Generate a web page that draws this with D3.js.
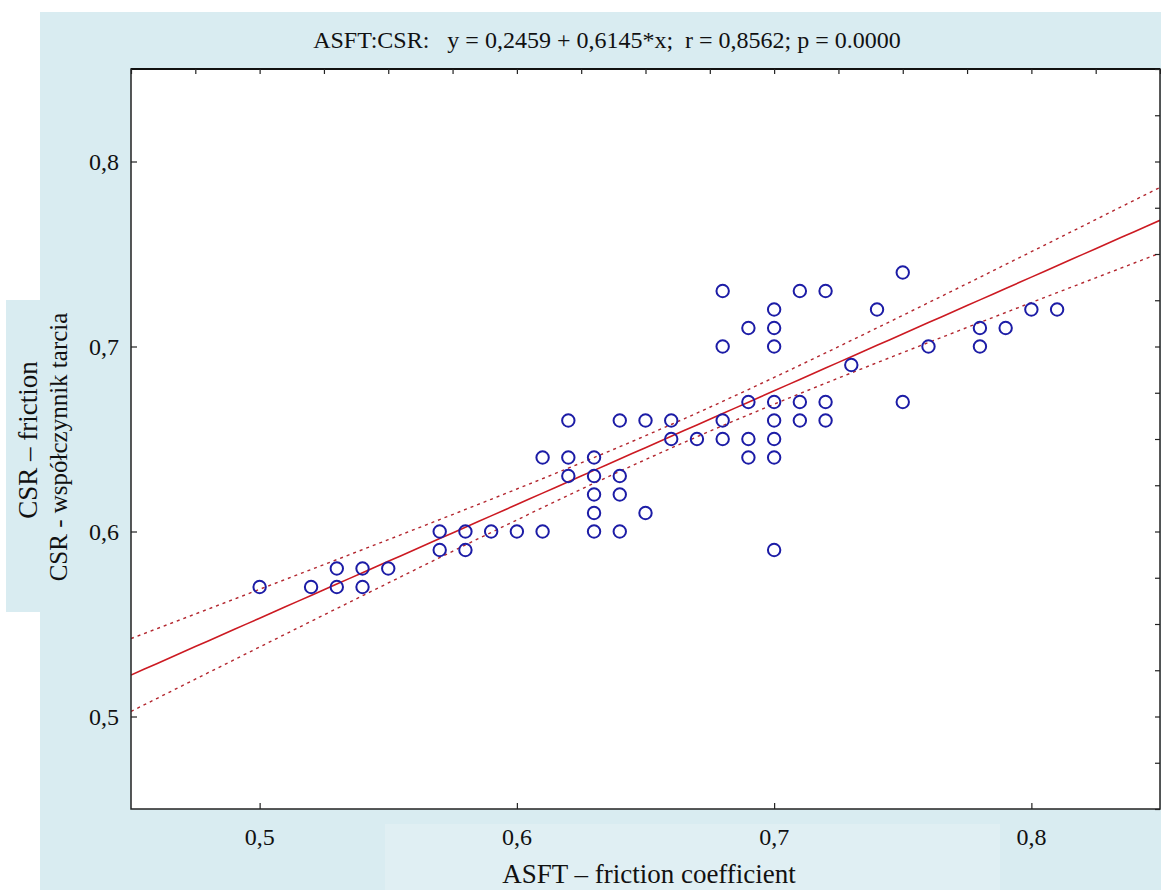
<!DOCTYPE html>
<html>
<head>
<meta charset="utf-8">
<script src="https://cdn.jsdelivr.net/npm/d3@7"></script>
<style>
  body { margin: 0; background: #fff; }
  svg { display: block; }
  svg text { font-family: "Liberation Serif", "Times New Roman", Times, serif; fill: #111; }
</style>
</head>
<body>
<svg id="chart"></svg>
<script>
// data (ASFT friction coefficient vs CSR friction)
const asftValues = [
  0.50, 0.52, 0.53, 0.53, 0.54, 0.54, 0.55, 0.57, 0.57, 0.58, 0.58, 0.59, 0.60,
  0.61, 0.61, 0.62, 0.62, 0.62, 0.63, 0.63, 0.63, 0.63, 0.63,
  0.64, 0.64, 0.64, 0.64, 0.65, 0.65, 0.66, 0.66, 0.67,
  0.68, 0.68, 0.68, 0.68, 0.69, 0.69, 0.69, 0.69,
  0.70, 0.70, 0.70, 0.70, 0.70, 0.70, 0.70, 0.70,
  0.71, 0.71, 0.71, 0.72, 0.72, 0.72, 0.73, 0.74, 0.75, 0.75, 0.76,
  0.78, 0.78, 0.79, 0.80, 0.81
];
const csrValues = [
  0.57, 0.57, 0.57, 0.58, 0.57, 0.58, 0.58, 0.59, 0.60, 0.59, 0.60, 0.60, 0.60,
  0.60, 0.64, 0.63, 0.64, 0.66, 0.60, 0.61, 0.62, 0.63, 0.64,
  0.60, 0.62, 0.63, 0.66, 0.61, 0.66, 0.65, 0.66, 0.65,
  0.65, 0.66, 0.70, 0.73, 0.64, 0.65, 0.67, 0.71,
  0.59, 0.64, 0.65, 0.66, 0.67, 0.70, 0.71, 0.72,
  0.66, 0.67, 0.73, 0.66, 0.67, 0.73, 0.69, 0.72, 0.67, 0.74, 0.70,
  0.70, 0.71, 0.71, 0.72, 0.72
];
const majorTicks = [0.5, 0.6, 0.7, 0.8];
const minorTicks = d3.range(0.45, 0.8501, 0.025);
// values printed in the chart title
const intercept = 0.2459;
const slope = 0.6145;
const rValue = 0.8562;
const titleText = "ASFT:CSR:   y = 0,2459 + 0,6145*x;  r = 0,8562; p = 0.0000";

const width = 1161, height = 890;
const plot = { left: 131, right: 1160, top: 69, bottom: 809 };
const panelBlue = "#d9ecf1";

const svg = d3.select("#chart").attr("width", width).attr("height", height);

// background panels
svg.append("rect").attr("x", 40).attr("y", 12).attr("width", width - 40).attr("height", height - 12).attr("fill", panelBlue);
svg.append("rect").attr("x", 6).attr("y", 300).attr("width", 40).attr("height", 312).attr("fill", panelBlue);
svg.append("rect").attr("x", 385).attr("y", 824).attr("width", 615).attr("height", 66).attr("fill", "#e0eff3");
svg.append("rect")
  .attr("x", plot.left).attr("y", plot.top)
  .attr("width", plot.right - plot.left).attr("height", plot.bottom - plot.top)
  .attr("fill", "#fff");

const x = d3.scaleLinear().domain([0.45, 0.85]).range([plot.left, plot.right]);
const y = d3.scaleLinear().domain([0.45, 0.85]).range([plot.bottom, plot.top]);
const fmt = d => d3.format(".1f")(d).replace(".", ",");

svg.append("defs").append("clipPath").attr("id", "clip")
  .append("rect")
  .attr("x", plot.left).attr("y", plot.top)
  .attr("width", plot.right - plot.left).attr("height", plot.bottom - plot.top);

// regression line + 95% confidence band for the mean
const n = asftValues.length;
const xMean = d3.mean(asftValues);
const sxx = d3.sum(asftValues, v => (v - xMean) ** 2);
const sy = d3.deviation(csrValues);
const se = sy * Math.sqrt((1 - rValue * rValue) * (n - 1) / (n - 2));
const tCrit = 1.999;
const xs = d3.range(0.45, 0.8501, 0.005);
const fit = v => intercept + slope * v;
const half = v => tCrit * se * Math.sqrt(1 / n + (v - xMean) ** 2 / sxx);

const lines = svg.append("g").attr("clip-path", "url(#clip)");
const lineGen = f => d3.line().x(d => x(d)).y(d => y(f(d)))(xs);
lines.append("path").attr("d", lineGen(fit))
  .attr("fill", "none").attr("stroke", "#cc1a22").attr("stroke-width", 1.6);
[v => fit(v) + half(v), v => fit(v) - half(v)].forEach(f => {
  lines.append("path").attr("d", lineGen(f))
    .attr("fill", "none").attr("stroke", "#b3262e").attr("stroke-width", 1.4)
    .attr("stroke-dasharray", "3,4");
});

// points
svg.append("g")
  .selectAll("circle")
  .data(asftValues.map((v, i) => [v, csrValues[i]]))
  .join("circle")
  .attr("cx", d => x(d[0]))
  .attr("cy", d => y(d[1]))
  .attr("r", 6.2)
  .attr("fill", "none")
  .attr("stroke", "#1c1ca6")
  .attr("stroke-width", 2);

// frame
svg.append("rect")
  .attr("x", plot.left).attr("y", plot.top)
  .attr("width", plot.right - plot.left).attr("height", plot.bottom - plot.top)
  .attr("fill", "none").attr("stroke", "#222").attr("stroke-width", 1.5);
svg.append("line").attr("x1", plot.left).attr("x2", plot.right)
  .attr("y1", plot.top).attr("y2", plot.top).attr("stroke", "#111").attr("stroke-width", 2.2);

// axes (ticks inward)
svg.append("g").attr("transform", `translate(0,${plot.bottom})`)
  .call(d3.axisTop(x).tickValues(majorTicks).tickSize(6).tickFormat(""))
  .call(g => g.select(".domain").remove());
svg.append("g").attr("transform", `translate(${plot.left},0)`)
  .call(d3.axisRight(y).tickValues(majorTicks).tickSize(6).tickFormat(""))
  .call(g => g.select(".domain").remove());
svg.append("g").attr("transform", `translate(0,${plot.top})`)
  .call(d3.axisBottom(x).tickValues(minorTicks).tickSize(5).tickFormat(""))
  .call(g => g.select(".domain").remove());
svg.append("g").attr("transform", `translate(${plot.right},0)`)
  .call(d3.axisLeft(y).tickValues(minorTicks).tickSize(5).tickFormat(""))
  .call(g => g.select(".domain").remove());
svg.selectAll(".tick line").attr("stroke", "#222").attr("stroke-width", 1.2);

// tick labels
svg.append("g").selectAll("text").data(majorTicks).join("text")
  .attr("x", d => x(d)).attr("y", 845)
  .attr("text-anchor", "middle").attr("font-size", 24)
  .text(fmt);
svg.append("g").selectAll("text").data(majorTicks).join("text")
  .attr("x", 119).attr("y", d => y(d)).attr("dy", "0.35em")
  .attr("text-anchor", "end").attr("font-size", 24)
  .text(fmt);

// titles
svg.append("text").attr("x", 607).attr("y", 48)
  .attr("text-anchor", "middle").attr("font-size", 24)
  .attr("xml:space", "preserve").style("white-space", "pre")
  .text(titleText);
svg.append("text").attr("x", 649).attr("y", 883)
  .attr("text-anchor", "middle").attr("font-size", 27)
  .text("ASFT \u2013 friction coefficient");
svg.append("text").attr("transform", "translate(37,440) rotate(-90)")
  .attr("text-anchor", "middle").attr("font-size", 27)
  .text("CSR \u2013 friction");
svg.append("text").attr("transform", "translate(67,447) rotate(-90)")
  .attr("text-anchor", "middle").attr("font-size", 25)
  .text("CSR - współczynnik tarcia");
</script>
</body>
</html>
